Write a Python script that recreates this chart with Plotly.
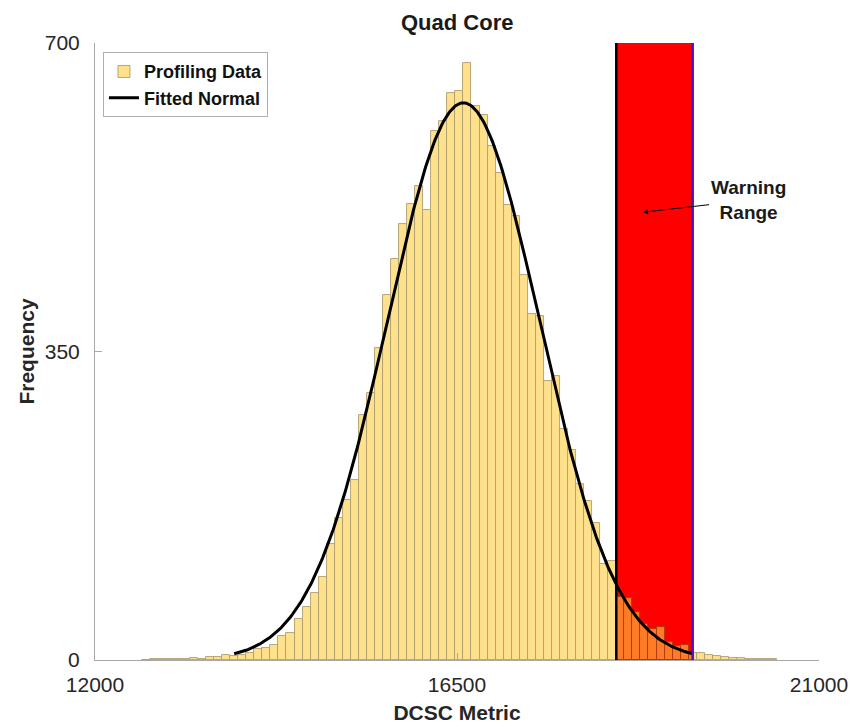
import numpy as np
import plotly.graph_objects as go

# ---- data ----
BIN_START = 12580          # left edge of first histogram bin
BIN_WIDTH = 100
COUNTS = [0, 1, 1, 1, 1, 1, 2, 1,
          3, 3, 6, 4, 6, 8, 13, 14, 17, 27, 31, 47,
          60, 76, 94, 132, 161, 182, 204, 278, 303, 354,
          414, 455, 495, 517, 538, 510, 600, 612, 643, 646,
          677, 628, 618, 583, 552, 516, 504, 437, 392, 390,
          316, 322, 262, 238, 200, 180, 155, 109, 112, 72,
          70, 55, 41, 35, 37, 20, 16, 17, 8, 8,
          6, 4, 3, 2, 2, 1, 1, 1, 1]
FIT_MU = 16580
FIT_SIGMA = 950
X_TICKS = [12000, 16500, 21000]
X_TICK_LABELS = ["12000", "16500", "21000"]
Y_TICKS = [0, 350, 700]
Y_TICK_LABELS = ["0", "350", "700"]
X_RANGE = [12000, 21000]
Y_RANGE = [0, 700]

centers = [BIN_START + (i + 0.5) * BIN_WIDTH for i in range(len(COUNTS))]
n_total = sum(COUNTS)

# fitted normal, scaled to histogram counts, drawn over mu +/- 3 sigma
xs = np.linspace(FIT_MU - 3 * FIT_SIGMA, FIT_MU + 3 * FIT_SIGMA, 400)
ys = n_total * BIN_WIDTH / (FIT_SIGMA * np.sqrt(2 * np.pi)) * np.exp(-0.5 * ((xs - FIT_MU) / FIT_SIGMA) ** 2)

warn_lo = FIT_MU + 2 * FIT_SIGMA
warn_hi = FIT_MU + 3 * FIT_SIGMA

FONT = "Liberation Sans, Arial, sans-serif"

fig = go.Figure()
fig.add_trace(go.Bar(
    x=centers, y=COUNTS, width=BIN_WIDTH,
    name="<b>Profiling Data</b>", opacity=0.6,
    marker=dict(color="rgb(255,205,63)",
                line=dict(color="rgb(120,95,25)", width=0.9)),
))
fig.add_trace(go.Scatter(
    x=xs, y=ys, mode="lines", name="<b>Fitted Normal</b>",
    line=dict(color="black", width=3),
))

fig.add_shape(type="rect", xref="x", yref="y", x0=warn_lo, x1=warn_hi,
              y0=Y_RANGE[0], y1=Y_RANGE[1], fillcolor="#FF0000",
              line=dict(width=0), layer="below")
fig.add_shape(type="line", xref="x", yref="y", x0=warn_lo, x1=warn_lo,
              y0=Y_RANGE[0], y1=Y_RANGE[1], line=dict(color="black", width=2.5))
fig.add_shape(type="line", xref="x", yref="y", x0=warn_hi, x1=warn_hi,
              y0=Y_RANGE[0], y1=Y_RANGE[1], line=dict(color="#4A12C8", width=2.5))

fig.add_annotation(x=18813, y=508, xref="x", yref="y",
                   text="<b>Warning<br>Range</b>", showarrow=True,
                   ax=105, ay=-12, arrowhead=2, arrowsize=1, arrowwidth=1,
                   arrowcolor="black", font=dict(family=FONT, size=19, color="#1a1a1a"))

axis_common = dict(showgrid=False, zeroline=False, showline=True,
                   linecolor="#A8A8A8", linewidth=1, ticks="inside",
                   ticklen=7, tickcolor="#A8A8A8", automargin=False,
                   tickfont=dict(family=FONT, size=21, color="#262626"))

fig.update_layout(
    width=866, height=725,
    margin=dict(l=95, r=47, t=43, b=65),
    paper_bgcolor="white", plot_bgcolor="white",
    barmode="overlay", bargap=0,
    title=dict(text="<b>Quad Core</b>", x=0.528, xanchor="center",
               y=1 - 22 / 725, yanchor="middle", yref="container",
               font=dict(family=FONT, size=22, color="#1a1a1a")),
    xaxis=dict(range=X_RANGE, tickvals=X_TICKS, ticktext=X_TICK_LABELS,
               ticklabelstandoff=6,
               title=dict(text="<b>DCSC Metric</b>", standoff=10,
                          font=dict(family=FONT, size=21, color="#262626")),
               **axis_common),
    yaxis=dict(range=Y_RANGE, tickvals=Y_TICKS, ticktext=Y_TICK_LABELS,
               ticklabelstandoff=10,
               title=dict(text="<b>Frequency</b>", standoff=4,
                          font=dict(family=FONT, size=21, color="#262626")),
               **axis_common),
    legend=dict(x=0.011, y=0.985, xanchor="left", yanchor="top",
                bgcolor="white", bordercolor="#B0B0B0", borderwidth=1,
                font=dict(family=FONT, size=18, color="#111111"),
                tracegroupgap=0, itemwidth=30),
    showlegend=True,
)

fig.write_html("out.html")
